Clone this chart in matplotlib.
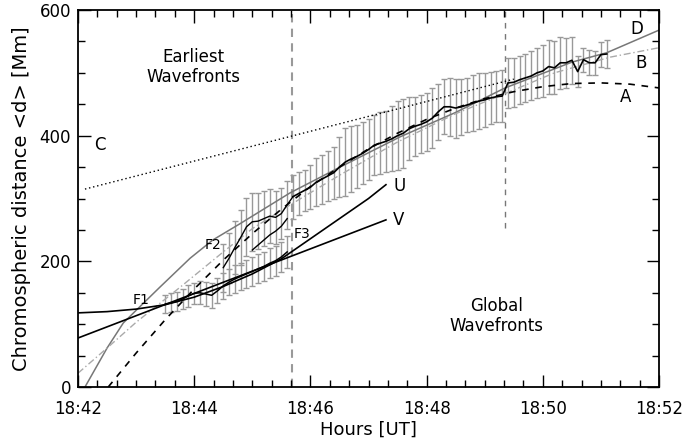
import numpy as np
import matplotlib
matplotlib.use('Agg')
import matplotlib.pyplot as plt
from matplotlib.ticker import FixedLocator, MultipleLocator, FixedFormatter

""" Data (minutes after 18:42, distance in Mm) """
# global wavefront track (black line + grey error bars)
t_glob = [3.7, 3.8, 3.9, 4.0, 4.1, 4.2, 4.3, 4.4, 4.5, 4.6, 4.7, 4.8, 4.9, 5.0,
          5.1, 5.2, 5.3, 5.4, 5.5, 5.6, 5.7, 5.8, 5.9, 6.0, 6.1, 6.2, 6.3, 6.4,
          6.5, 6.6, 6.7, 6.8, 6.9, 7.0, 7.1, 7.2, 7.3, 7.4, 7.5, 7.6, 7.7, 7.8,
          7.9, 8.0, 8.1, 8.2, 8.3, 8.4, 8.5, 8.6, 8.7, 8.8, 8.9, 9.0, 9.1]
d_glob = [303, 308, 313, 318, 326, 331, 336, 341, 350, 358, 363, 367, 372, 378,
          385, 388, 391, 395, 400, 404, 411, 415, 418, 422, 428, 438, 446, 446,
          444, 446, 449, 452, 455, 457, 460, 462, 463, 484, 485, 489, 492, 495,
          500, 503, 510, 508, 516, 516, 520, 502, 521, 516, 516, 529, 530]
e_glob = [35, 34, 33, 35, 38, 39, 40, 41, 48, 54, 52, 50, 49, 48,
          48, 49, 49, 52, 55, 55, 50, 47, 46, 46, 48, 45, 44, 46,
          47, 45, 43, 44, 44, 43, 42, 41, 41, 40, 39, 38, 38, 39,
          40, 42, 43, 42, 41, 40, 37, 25, 19, 20, 19, 20, 22]

# earliest wavefronts F1, F2, F3
t_f1 = [1.5, 1.6, 1.7, 1.8, 1.9, 2.0, 2.1, 2.2, 2.3, 2.4, 2.5, 2.6, 2.7, 2.8,
        2.9, 3.0, 3.1, 3.2, 3.3, 3.4, 3.5, 3.6]
d_f1 = [132, 134, 136, 140, 145, 149, 150, 148, 146, 153, 161, 167, 172, 176,
        180, 184, 188, 192, 197, 201, 207, 215]
e_f1 = [14, 15, 15, 16, 17, 17, 18, 19, 20, 20, 21, 21, 22, 22,
        22, 23, 23, 23, 24, 24, 24, 25]

t_f2 = [2.5, 2.6, 2.7, 2.8, 2.9, 3.0, 3.1, 3.2, 3.3, 3.4, 3.5, 3.6, 3.7]
d_f2 = [190, 205, 222, 238, 255, 263, 264, 268, 272, 270, 276, 290, 303]
e_f2 = [38, 40, 42, 44, 46, 46, 45, 44, 43, 42, 40, 38]

t_f3 = [3.0, 3.1, 3.2, 3.3, 3.4, 3.5, 3.6]
d_f3 = [218, 226, 234, 242, 248, 256, 268]

# fits
t_A = [0.52, 1.0, 1.5, 2.0, 2.5, 3.0, 3.5, 4.0, 4.5, 5.0, 5.5, 6.0, 6.5, 7.0,
       7.5, 8.0, 8.5, 9.0, 9.5, 10.0]
d_A = [0, 54, 107, 156, 202, 244, 283, 319, 350, 379, 404, 426, 444, 459,
       470, 478, 483, 484, 482, 476]

t_B = [0.0, 0.5, 1.0, 1.76, 2.5, 3.0, 3.6, 4.5, 5.5, 6.5, 7.3, 8.2, 9.16, 10.0]
d_B = [22, 62, 103, 159, 215, 252, 287, 337, 390, 435, 465, 500, 525, 540]

t_C = [0.12, 7.5]
d_C = [315, 490]

t_D = [0.12, 0.5, 0.78, 1.0, 1.41, 1.93, 2.32, 2.79, 3.65, 4.51, 5.54, 6.5,
       7.35, 8.5, 9.1, 10.0]
d_D = [0, 62, 102, 122, 159, 205, 234, 260, 309, 350, 398, 437,
       476, 517, 532, 568]

t_U = [0.0, 0.5, 1.0, 1.5, 2.0, 2.5, 3.0, 3.5, 4.0, 4.5, 5.0, 5.3]
d_U = [118, 120, 124, 131, 143, 160, 180, 204, 236, 268, 300, 322]

t_V = [0.0, 5.3]
d_V = [78, 266]

x_ticks = [0, 2, 4, 6, 8, 10]
x_labels = ['18:42', '18:44', '18:46', '18:48', '18:50', '18:52']

t_split1 = 3.68
t_split2 = 7.35

plt.rcParams['font.family'] = ['DejaVu Sans']

fig = plt.figure(figsize=(6.83, 4.41), dpi=100)
ax = fig.add_axes([0.1142, 0.1224, 0.8507, 0.8549])

# error bars
ebkw = dict(fmt='none', ecolor='#999999', elinewidth=1.0, capsize=2.0, capthick=1.0, zorder=1)
ax.errorbar(t_glob, d_glob, yerr=e_glob, **ebkw)
ax.errorbar(t_f1, d_f1, yerr=e_f1, **ebkw)
ax.errorbar(t_f2[:-1], d_f2[:-1], yerr=e_f2, **ebkw)

# separators
ax.axvline(t_split1, color='#999999', lw=1.5, dashes=(4, 3), zorder=0)
ax.plot([t_split2, t_split2], [253, 600], color='#777777', lw=1.0, dashes=(4, 4), zorder=0)

# fits
ax.plot(t_D, d_D, color='#777777', lw=1.1, zorder=2)
ax.plot(t_B, d_B, color='#aaaaaa', lw=1.0, dashes=(5, 2, 1, 2), zorder=2)
ax.plot(t_C, d_C, color='black', lw=1.0, dashes=(1, 2), zorder=2)
ax.plot(t_A, d_A, color='black', lw=1.2, dashes=(4, 4), zorder=3)
ax.plot(t_U, d_U, color='black', lw=1.2, zorder=3)
ax.plot(t_V, d_V, color='black', lw=1.2, zorder=3)

# measured tracks
ax.plot(t_glob, d_glob, color='black', lw=1.2, zorder=4)
ax.plot(t_f1, d_f1, color='black', lw=1.1, zorder=4)
ax.plot(t_f2, d_f2, color='black', lw=1.0, zorder=4)
ax.plot(t_f3, d_f3, color='black', lw=1.0, zorder=4)

# labels
lab = dict(fontsize=12, ha='center', va='center')
ax.text(0.38, 385, 'C', **lab)
ax.text(9.62, 570, 'D', **lab)
ax.text(9.69, 516, 'B', **lab)
ax.text(9.43, 462, 'A', **lab)
ax.text(5.53, 320, 'U', **lab)
ax.text(5.51, 266, 'V', **lab)
ax.text(1.08, 138, 'F1', fontsize=10, ha='center', va='center')
ax.text(2.32, 226, 'F2', fontsize=10, ha='center', va='center')
ax.text(3.85, 244, 'F3', fontsize=10, ha='center', va='center')
ax.text(1.98, 509, 'Earliest\nWavefronts', fontsize=12, ha='center', va='center', linespacing=1.15)
ax.text(7.21, 113, 'Global\nWavefronts', fontsize=12, ha='center', va='center', linespacing=1.15)

ax.set_xlim(0, 10)
ax.set_ylim(0, 600)
ax.xaxis.set_major_locator(FixedLocator(x_ticks))
ax.xaxis.set_major_formatter(FixedFormatter(x_labels))
ax.xaxis.set_minor_locator(MultipleLocator(1.0 / 3.0))
ax.yaxis.set_major_locator(MultipleLocator(200))
ax.yaxis.set_minor_locator(MultipleLocator(50))
ax.tick_params(which='both', direction='in', top=True, right=True, width=1.0, labelsize=12)
ax.tick_params(axis='x', which='major', pad=9)
ax.tick_params(axis='y', which='major', pad=5)
ax.tick_params(which='major', length=9)
ax.tick_params(which='minor', length=5)
for s in ax.spines.values():
    s.set_linewidth(1.3)

ax.set_xlabel('Hours [UT]', fontsize=13, labelpad=2)
ax.set_ylabel('Chromospheric distance <d> [Mm]', fontsize=14, labelpad=6)

fig.savefig('out.png', dpi=100)
